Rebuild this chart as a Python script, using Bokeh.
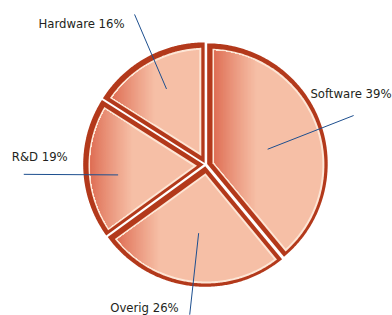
import numpy as np
from bokeh.plotting import figure
from bokeh.models import Range1d, ColumnDataSource
from bokeh.core.properties import value
from bokeh.embed import file_html
from bokeh.resources import INLINE

# ---- data ----
categories = ["Software", "Overig", "R&D", "Hardware"]
shares = [39, 26, 19, 16]
label_texts = ["Software 39%", "Overig 26%", "R&D 19%", "Hardware 16%"]

# ---- layout / style ----
W, H = 392, 315
CX, CY, R = 205.0, 151.0, 120.5
EXPLODE = 1.8
BEVEL = (1.0, -1.0)
DARK = "#b3391b"
HILITE = "#fde6d6"
PEACH = np.array([246, 191, 166])
DEEP = np.array([222, 108, 82])
LINE_COLOR = "#1d4f8f"
TEXT_COLOR = "#231f20"
FONT = "'Liberation Sans Narrow', 'DejaVu Sans Condensed', 'Roboto Condensed', Roboto, sans-serif"

# leader lines: (inner radius, inner bearing offset from mid), (outer radius, outer bearing)
leader_inner = [(64, 6), (69, -1.5), (88, -5), (85, 1.5)]
leader_outer = [(156, 71.7), (151, 186), (182, 266.9), (166, 334.7)]
label_offset = [(38, 22, "right"), (-11, 7, "right"), (-12, 18, "left"), (-10, -9, "right")]


def pt(c, r, bearing):
    b = np.radians(bearing)
    return c[0] + r * np.sin(b), c[1] + r * np.cos(b)


def wedge_poly(c, r, a0, a1, inset, n=160):
    half = np.radians(a1 - a0) / 2
    rr = r - inset
    d = np.degrees(np.arcsin(inset / rr)) if inset > 0 else 0.0
    angs = np.linspace(a0 + d, a1 - d, n)
    xs = [c[0] + rr * np.sin(np.radians(a)) for a in angs]
    ys = [c[1] + rr * np.cos(np.radians(a)) for a in angs]
    mid = (a0 + a1) / 2
    ax, ay = pt(c, inset / np.sin(half) if inset > 0 else 0.0, mid)
    return np.array([[ax, ay]] + list(zip(xs, ys)))


def clip_xmax(poly, xm):
    out = []
    m = len(poly)
    for i in range(m):
        p1 = poly[i]
        p2 = poly[(i + 1) % m]
        in1 = p1[0] <= xm
        in2 = p2[0] <= xm
        if in1:
            out.append(p1)
        if in1 != in2:
            t = (xm - p1[0]) / (p2[0] - p1[0])
            out.append(p1 + t * (p2 - p1))
    return np.array(out)


p = figure(width=W, height=H, output_backend="svg", toolbar_location=None,
           x_range=Range1d(0, W), y_range=Range1d(0, H), min_border=0)
p.axis.visible = False
p.grid.visible = False
p.outline_line_color = None
p.background_fill_color = "white"

total = float(sum(shares))
cum = 0.0
dark_x, dark_y, hi_x, hi_y = [], [], [], []
fill_x, fill_y, fill_c = [], [], []
seg = {"x0": [], "y0": [], "x1": [], "y1": []}
lab = {"x": [], "y": [], "text": [], "align": []}

for i, s in enumerate(shares):
    a0 = cum / total * 360.0
    a1 = (cum + s) / total * 360.0
    cum += s
    mid = (a0 + a1) / 2
    c = pt((CX, CY), EXPLODE, mid)
    cb = (c[0] + BEVEL[0], c[1] + BEVEL[1])
    dp = wedge_poly(c, R, a0, a1, 0.0)
    hp = wedge_poly(cb, R, a0, a1, 4.3)
    fp = wedge_poly(cb, R, a0, a1, 6.3)
    dark_x.append(list(dp[:, 0])); dark_y.append(list(dp[:, 1]))
    hi_x.append(list(hp[:, 0])); hi_y.append(list(hp[:, 1]))
    fill_x.append(list(fp[:, 0])); fill_y.append(list(fp[:, 1]))
    fill_c.append("#%02x%02x%02x" % tuple(PEACH))
    xmin = fp[:, 0].min()
    N, w = 30, 1.4
    for k in range(N - 1, -1, -1):
        cp = clip_xmax(fp, xmin + (k + 1) * w)
        if len(cp) < 3:
            continue
        u = ((k + 0.5) / N) ** 0.85
        col = DEEP + (PEACH - DEEP) * u
        fill_x.append(list(cp[:, 0])); fill_y.append(list(cp[:, 1]))
        fill_c.append("#%02x%02x%02x" % tuple(int(round(v)) for v in col))
    ri, off = leader_inner[i]
    ro, bo = leader_outer[i]
    x0, y0 = pt((CX, CY), ri, mid + off)
    x1, y1 = pt((CX, CY), ro, bo)
    seg["x0"].append(x0); seg["y0"].append(y0)
    seg["x1"].append(x1); seg["y1"].append(y1)
    dx, dy, al = label_offset[i]
    lab["x"].append(x1 + dx); lab["y"].append(y1 + dy)
    lab["text"].append(label_texts[i]); lab["align"].append(al)

p.patches(dark_x, dark_y, fill_color=DARK, line_color=None)
p.patches(hi_x, hi_y, fill_color=HILITE, line_color=None)
p.patches(fill_x, fill_y, fill_color=fill_c, line_color=None)
p.segment(x0="x0", y0="y0", x1="x1", y1="y1", source=ColumnDataSource(seg),
          line_color=LINE_COLOR, line_width=1)
p.text(x="x", y="y", text="text", text_align="align", source=ColumnDataSource(lab),
       text_baseline="middle", text_font=value(FONT),
       text_font_size="13px", text_color=TEXT_COLOR)

open("out.html", "w").write(file_html(p, INLINE))
